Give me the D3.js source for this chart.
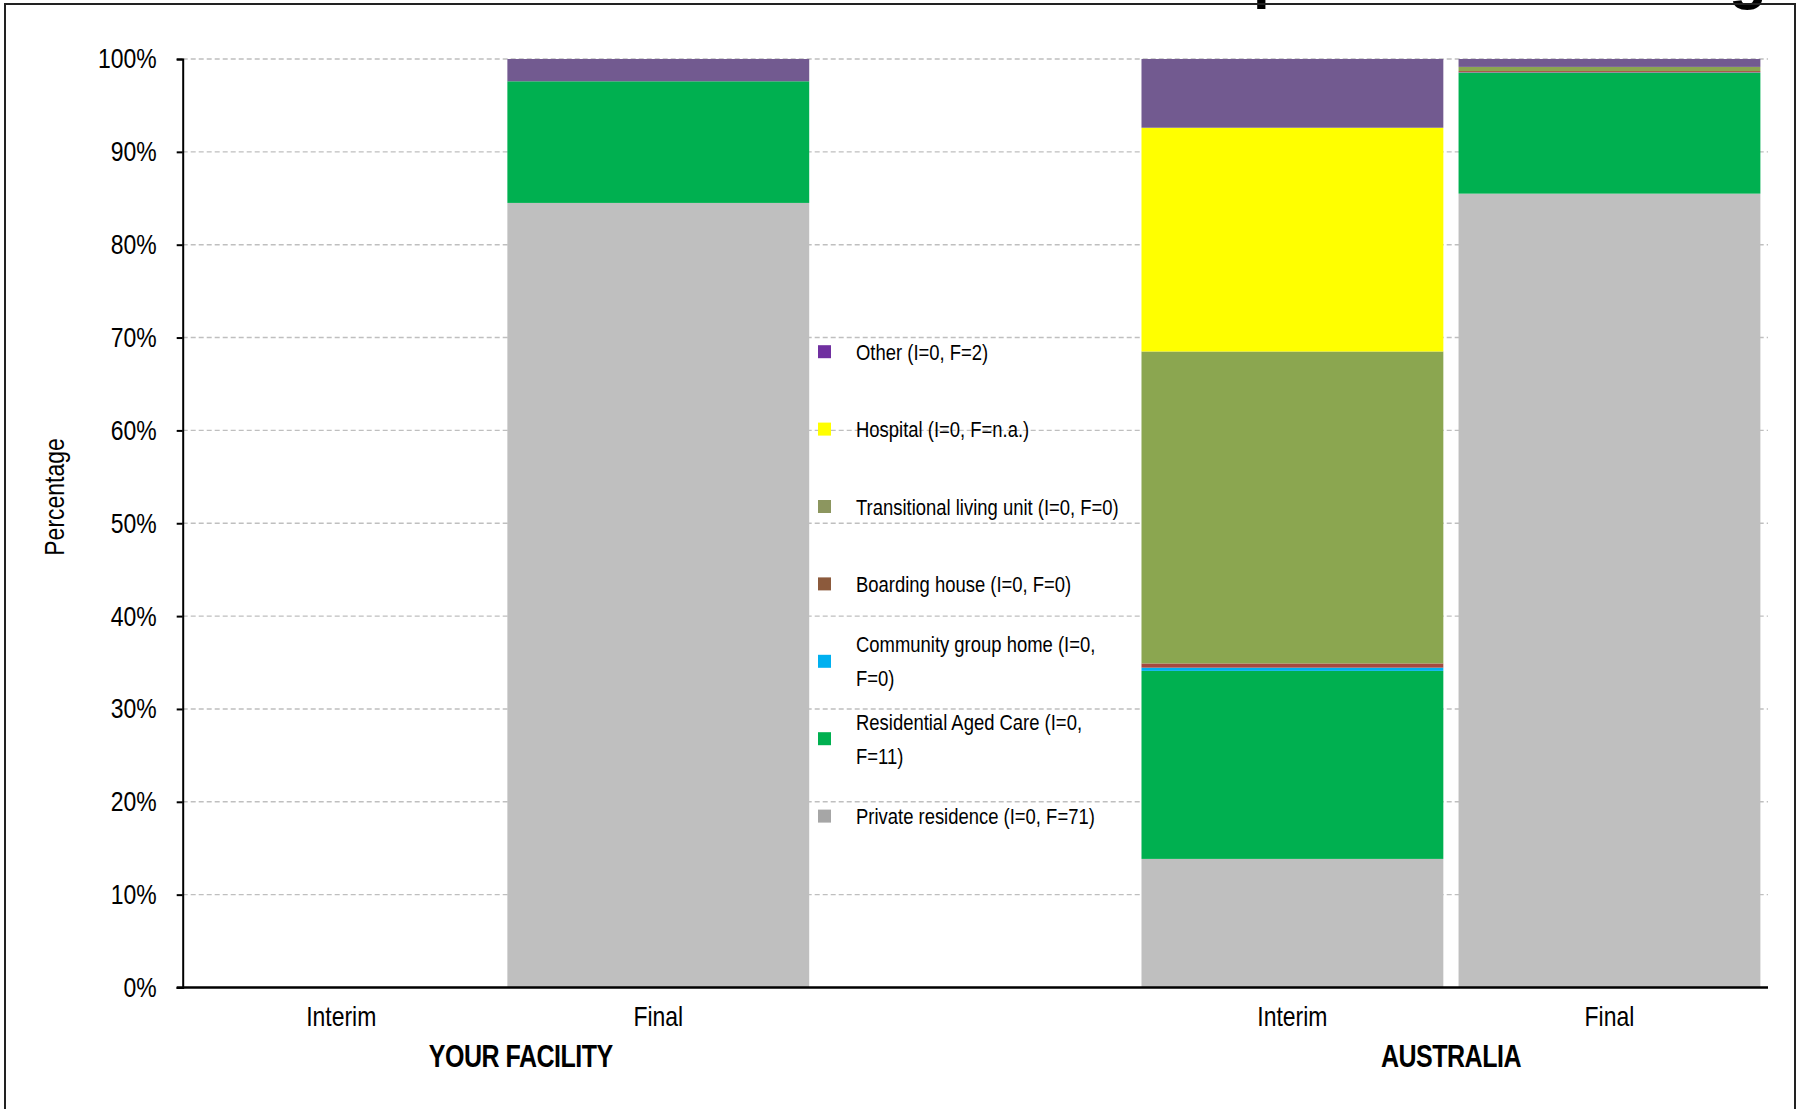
<!DOCTYPE html>
<html>
<head>
<meta charset="utf-8">
<script src="https://cdn.jsdelivr.net/npm/d3@7"></script>
<style>
  html, body { margin: 0; padding: 0; background: #ffffff; }
  svg { display: block; }
  text { font-family: "Liberation Sans", Arial, sans-serif; fill: #000; }
</style>
</head>
<body>
<svg id="chart" width="1800" height="1109"></svg>
<script>
// ---------------- DATA ----------------
const slots = ["YF-Interim", "YF-Final", "gap", "AU-Interim", "AU-Final"];
const slotLabels = ["Interim", "Final", "", "Interim", "Final"];
const groups = ["YOUR FACILITY", "AUSTRALIA"];
const groupSlots = [["YF-Interim", "YF-Final"], ["AU-Interim", "AU-Final"]];
const barSlots = ["YF-Interim", "YF-Final", "AU-Interim", "AU-Final"];

// series, bottom to top of stack
const seriesKeys = ["private", "rac", "cgh", "boarding", "tlu", "hospital", "other"];
const seriesLabels = [
  ["Private residence (I=0, F=71)"],
  ["Residential Aged Care (I=0,", "F=11)"],
  ["Community group home (I=0,", "F=0)"],
  ["Boarding house (I=0, F=0)"],
  ["Transitional living unit (I=0, F=0)"],
  ["Hospital (I=0, F=n.a.)"],
  ["Other (I=0, F=2)"]
];
// percentages per bar slot: YF Interim, YF Final, AU Interim, AU Final
const privateResidence       = [0, 84.5, 13.85, 85.5];
const residentialAgedCare    = [0, 13.1, 20.25, 13.0];
const communityGroupHome     = [0, 0,    0.35,  0.05];
const boardingHouse          = [0, 0,    0.45,  0.15];
const transitionalLivingUnit = [0, 0,    33.6,  0.45];
const hospital               = [0, 0,    24.1,  0];
const other                  = [0, 2.4,  7.4,   0.85];

const yTicks = [0, 10, 20, 30, 40, 50, 60, 70, 80, 90, 100];
const yAxisTitle = "Percentage";

// colours
const barColors = ["#BFBFBF", "#00B050", "#00B0F0", "#A5493F", "#8BA650", "#FFFF00", "#725A90"];
const legendColors = ["#A6A6A6", "#00B050", "#00B0F0", "#8C5A3C", "#8C965F", "#FFFF00", "#7030A0"];

// ---------------- LAYOUT ----------------
const NARROW = 0.82; // horizontal compression to imitate a narrow face
const svg = d3.select("#chart");
const plot = { left: 182.7, right: 1768, top: 59, bottom: 987.5 };

const x = d3.scaleBand().domain(slots).range([plot.left, plot.right])
  .paddingInner(0.048).paddingOuter(0.024);
const y = d3.scaleLinear().domain([0, 100]).range([plot.bottom, plot.top]);

function ntext(parent, px, py, str, size, anchor, bold) {
  return parent.append("text")
    .attr("transform", `translate(${px},${py}) scale(${NARROW},1)`)
    .attr("text-anchor", anchor || "start")
    .style("font-size", size + "px")
    .style("font-weight", bold ? "bold" : "normal")
    .text(str);
}

// partial title glyphs clipped by the top of the image
svg.append("text").attr("x", 1253).attr("y", -3)
  .style("font-weight", "bold").style("font-size", "60px").text("p");
svg.append("text").attr("x", 1729).attr("y", -3)
  .style("font-weight", "bold").style("font-size", "62px").text("g");

// frame
svg.append("rect").attr("x", 5).attr("y", 4).attr("width", 1790).attr("height", 1130)
  .attr("fill", "none").attr("stroke", "#222").attr("stroke-width", 2);

// gridlines
svg.append("g").selectAll("line").data(yTicks.filter(d => d > 0)).join("line")
  .attr("x1", plot.left).attr("x2", plot.right)
  .attr("y1", d => y(d)).attr("y2", d => y(d))
  .attr("stroke", "#BFBFBF").attr("stroke-width", 1.4).attr("stroke-dasharray", "5,3");

// stacked data
const rows = barSlots.map((s, i) => ({
  slot: s,
  private: privateResidence[i],
  rac: residentialAgedCare[i],
  cgh: communityGroupHome[i],
  boarding: boardingHouse[i],
  tlu: transitionalLivingUnit[i],
  hospital: hospital[i],
  other: other[i]
}));
const stacked = d3.stack().keys(seriesKeys)(rows);

svg.append("g").selectAll("g").data(stacked).join("g")
  .attr("fill", (d, i) => barColors[i])
  .selectAll("rect").data(d => d).join("rect")
  .attr("x", d => x(d.data.slot))
  .attr("width", x.bandwidth())
  .attr("y", d => y(d[1]))
  .attr("height", d => Math.max(0, y(d[0]) - y(d[1])));

// y axis
const yAxis = svg.append("g").attr("transform", `translate(${plot.left},0)`)
  .call(d3.axisLeft(y).tickValues(yTicks).tickFormat(d => d + "%").tickSize(6).tickPadding(20));
yAxis.select(".domain").attr("stroke", "#000").attr("stroke-width", 2);
yAxis.selectAll(".tick line").attr("stroke", "#000").attr("stroke-width", 2);
yAxis.selectAll(".tick text")
  .attr("x", -26 / NARROW)
  .attr("transform", `scale(${NARROW},1)`)
  .style("font-size", "28px")
  .style("font-family", "'Liberation Sans', Arial, sans-serif").attr("fill", "#000");

// x axis baseline
svg.append("line").attr("x1", plot.left - 6).attr("x2", plot.right)
  .attr("y1", plot.bottom).attr("y2", plot.bottom)
  .attr("stroke", "#000").attr("stroke-width", 2.5);

// x labels
const xl = svg.append("g");
slots.forEach((s, i) => {
  if (slotLabels[i] === "") return;
  ntext(xl, x(s) + x.bandwidth() / 2, 1026, slotLabels[i], 28, "middle");
});

// group labels
const groupOffsets = [21, 0];
const gl = svg.append("g");
groups.forEach((g, i) => {
  const a = x(groupSlots[i][0]) + x.bandwidth() / 2;
  const b = x(groupSlots[i][1]) + x.bandwidth() / 2;
  ntext(gl, (a + b) / 2 + groupOffsets[i], 1067, g, 30.5, "middle", true)
    .style("letter-spacing", "-0.6px");
});

// y axis title
svg.append("text")
  .attr("transform", `translate(64,497) rotate(-90) scale(${NARROW},1)`)
  .attr("text-anchor", "middle")
  .style("font-size", "28px")
  .text(yAxisTitle);

// legend (top-down: reverse of stack)
const legendOrder = d3.range(seriesKeys.length).reverse();
const legend = svg.append("g");
const legendTop = 351.7, legendStep = 77.4;
legendOrder.forEach((si, k) => {
  const cy = legendTop + k * legendStep;
  legend.append("rect").attr("x", 818).attr("y", cy - 6.5).attr("width", 13).attr("height", 13)
    .attr("fill", legendColors[si]);
  const lines = seriesLabels[si];
  const lh = 34;
  lines.forEach((ln, j) => {
    ntext(legend, 856, cy + (j - (lines.length - 1) / 2) * lh + 8, ln, 22.5, "start");
  });
});
</script>
</body>
</html>
